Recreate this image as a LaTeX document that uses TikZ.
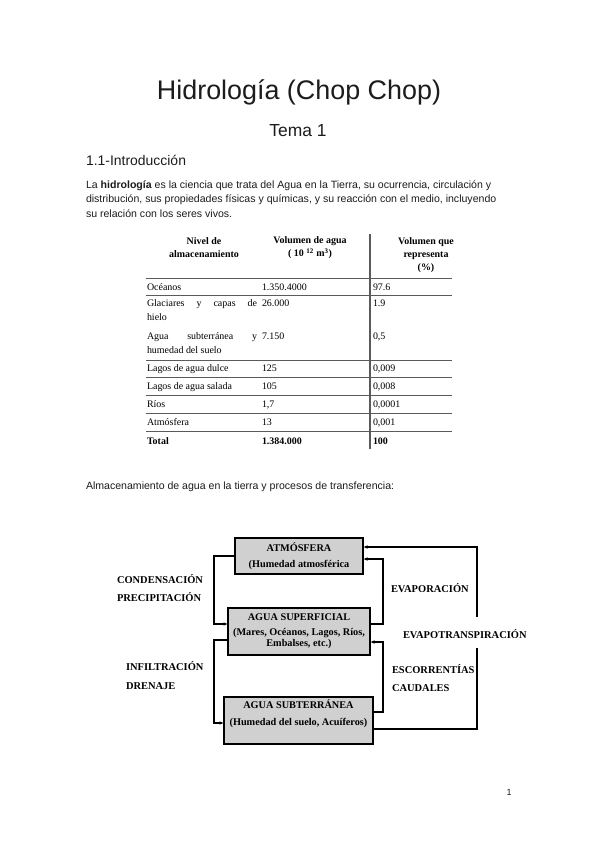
\documentclass[tikz,border=0pt]{standalone}
\usepackage{fontspec}
\setmainfont{Liberation Serif}
\setsansfont{Liberation Sans}
\usetikzlibrary{arrows.meta,calc,positioning}
\definecolor{ink}{HTML}{1C1C1C}
\definecolor{rule}{HTML}{5A5A5A}
\definecolor{boxgray}{HTML}{D0D0D0}

\begin{document}
\begin{tikzpicture}[x=1bp,y=-1bp,inner sep=0pt,outer sep=0pt,>={Latex[length=4.5bp,width=3.5bp]},
  body/.style={anchor=west,text=ink,font=\sffamily\fontsize{10.6}{12}\selectfont},
  cell/.style={anchor=base west,yshift=-3.5bp,font=\fontsize{10}{12}\selectfont},
  head/.style={anchor=north,align=center,font=\bfseries\fontsize{10}{12.8}\selectfont},
  store/.style={draw,line width=1.8bp,fill=boxgray,align=center,font=\bfseries\fontsize{10.3}{11.6}\selectfont},
  proc/.style={anchor=west,align=left,font=\bfseries\fontsize{10.5}{12}\selectfont},
  line/.style={line width=1.4bp},
  flow/.style={line,->}]
  \useasboundingbox[fill=white] (0,0) rectangle (600,848);

  % page heading
  \node[text=ink,font=\sffamily\fontsize{27}{32}\selectfont] (title) at (299,92) {Hidrología (Chop Chop)};
  \node[text=ink,font=\sffamily\fontsize{17.5}{20}\selectfont] (tema) at (298,131) {Tema 1};
  \node[body,font=\sffamily\fontsize{14}{16}\selectfont] (intro) at (86,160) {1.1-Introducción};
  \node[body] (par1) at (86,186) {La \textbf{hidrología} es la ciencia que trata del Agua en la Tierra, su ocurrencia, circulación y};
  \node[body] (par2) at (86,200) {distribución, sus propiedades físicas y químicas, y su reacción con el medio, incluyendo};
  \node[body] (par3) at (86,214) {su relación con los seres vivos.};

  % table
  \draw[rule,line width=1.3bp] (370,234) -- (370,449);
  \foreach \y in {278,295,360,377,395,413,431}
    \draw[rule,line width=0.8bp] (146,\y) -- (452,\y);
  \node[head] (h1) at (204,238) {Nivel de\\almacenamiento};
  \node[head] (h2) at (310,237) {Volumen de agua\\( 10 \textsuperscript{12} m\textsuperscript{3})};
  \node[head] (h3) at (426,238) {Volumen que\\representa\\(\%)};
  \node[cell] at (147,303) {\makebox[110bp][s]{Glaciares\hfill y\hfill capas\hfill de}};
  \node[cell] at (147,317) {hielo};
  \node[cell] at (147,336) {\makebox[110bp][s]{Agua\hfill subterránea\hfill y}};
  \node[cell] at (147,350) {humedad del suelo};
  \node[cell] at (262,303) {26.000};
  \node[cell] at (373,303) {1.9};
  \node[cell] at (262,336) {7.150};
  \node[cell] at (373,336) {0,5};
  \foreach \y/\a/\b/\c in {287/Océanos/1.350.4000/97.6, 368/Lagos de agua dulce/125/{0,009},
      386/Lagos de agua salada/105/{0,008}, 404/Ríos/{1,7}/{0,0001}, 422/Atmósfera/13/{0,001}} {
    \node[cell] at (147,\y) {\a};
    \node[cell] at (262,\y) {\b};
    \node[cell] at (373,\y) {\c};
  }
  \node[cell,font=\bfseries\fontsize{10}{12}\selectfont] at (147,441) {Total};
  \node[cell,font=\bfseries\fontsize{10}{12}\selectfont] at (262,441) {1.384.000};
  \node[cell,font=\bfseries\fontsize{10}{12}\selectfont] at (373,441) {100};

  \node[body] (caption) at (86,487) {Almacenamiento de agua en la tierra y procesos de transferencia:};

  % storage diagram
  \node[store,minimum width=128bp,minimum height=36bp] (atm) at (299,556) {ATMÓSFERA\\[5bp](Humedad atmosférica};
  \node[store,minimum width=142bp,minimum height=47bp] (sup) at (299,631.5) {AGUA SUPERFICIAL\\[3bp](Mares, Océanos, Lagos, Ríos,\\Embalses, etc.)};
  \node[store,minimum width=149bp,minimum height=47bp] (sub) at (298.5,720.5) {AGUA SUBTERRÁNEA\\[6bp](Humedad del suelo, Acuíferos)\\[4bp]\mbox{}};

  \coordinate (lx) at (214,0);
  \coordinate (rx) at (383,0);
  \coordinate (etlow) at (477,648);
  \coordinate (ethigh) at (477,617);

  \draw[flow] (atm.west) -- (atm.west -| lx) |- ([yshift=7.5bp]sup.west);
  \draw[flow] ([yshift=-8.5bp]sup.west) -- ([yshift=-8.5bp]sup.west -| lx) |- ([yshift=-2.5bp]sub.west);
  \draw[flow] ([yshift=7.5bp]sup.east) -- ([yshift=7.5bp]sup.east -| rx) |- ([yshift=-3bp]atm.east);
  \draw[flow] ([yshift=8.5bp]sub.east) -- ([yshift=8.5bp]sub.east -| rx) |- ([yshift=-10.5bp]sup.east);
  \draw[line] ([yshift=-8.5bp]sub.east) -| (etlow);
  \draw[flow] (ethigh) |- ([yshift=9bp]atm.east);

  \node[proc] (cond) at (117,588) {CONDENSACIÓN\\[6bp]PRECIPITACIÓN};
  \node[proc] (infil) at (126,675.5) {INFILTRACIÓN\\[7bp]DRENAJE};
  \node[proc] (evap) at (391,588) {EVAPORACIÓN};
  \node[proc] (evtr) at (403,634) {EVAPOTRANSPIRACIÓN};
  \node[proc] (esc) at (392,678) {ESCORRENTÍAS\\[6bp]CAUDALES};

  \node[text=ink,font=\sffamily\fontsize{9}{11}\selectfont] (page) at (509,792) {1};
\end{tikzpicture}
\end{document}
